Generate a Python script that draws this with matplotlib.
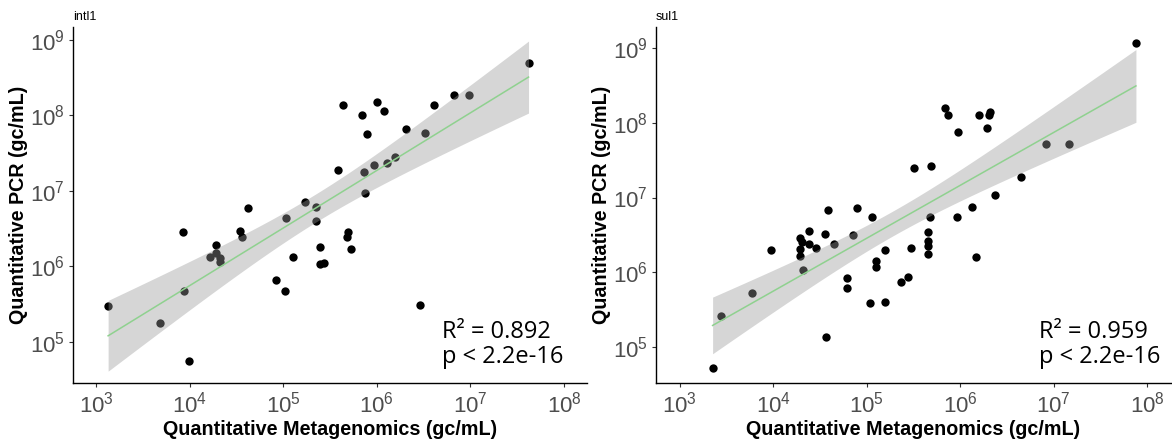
import numpy as np
import matplotlib
matplotlib.use("Agg")
import matplotlib.pyplot as plt
from matplotlib.ticker import LogLocator, NullLocator, LogFormatterSciNotation

plt.rcParams['font.family'] = ['Liberation Sans', 'DejaVu Sans']
plt.rcParams['mathtext.fontset'] = 'custom'
plt.rcParams['mathtext.rm'] = 'Liberation Sans'

# log10 values (metagenomics x, qPCR y)
intl1_x = [7.62, 5.64, 6.00, 5.84, 6.08, 5.90, 6.61, 6.82, 6.98, 6.31, 6.51,
           6.19, 6.11, 5.97, 5.86, 5.58, 5.87, 5.23, 5.35, 5.03, 5.35, 4.62,
           3.93, 4.54, 4.56, 4.28, 4.22, 4.28, 4.33, 4.32, 5.10, 4.92, 5.02,
           3.94, 3.13, 3.68, 3.99, 5.69, 5.68, 5.39, 5.72, 5.39, 5.44, 6.46]
intl1_y = [8.70, 8.14, 8.18, 8.00, 8.06, 7.75, 8.14, 8.27, 8.27, 7.82, 7.77,
           7.45, 7.37, 7.34, 7.25, 7.28, 6.97, 6.85, 6.79, 6.64, 6.60, 6.77,
           6.46, 6.47, 6.39, 6.28, 6.13, 6.18, 6.11, 6.06, 6.13, 5.82, 5.68,
           5.68, 5.48, 5.25, 4.75, 6.46, 6.39, 6.26, 6.23, 6.03, 6.05, 5.49]

sul1_x = [7.88, 5.84, 5.87, 6.20, 6.32, 6.31, 6.29, 5.98, 6.92, 7.16, 5.51,
          5.69, 6.65, 6.37, 6.13, 5.97, 5.68, 5.06, 4.59, 4.89, 4.38, 4.28,
          4.55, 4.85, 4.31, 4.38, 4.65, 3.97, 4.29, 4.46, 5.20, 4.29, 5.10,
          5.10, 4.32, 4.79, 4.79, 3.77, 5.03, 5.19, 3.44, 4.56, 3.35, 5.66,
          5.65, 5.65, 5.65, 5.47, 6.17, 5.44, 5.37]
sul1_y = [9.06, 8.20, 8.11, 8.10, 8.14, 8.10, 7.93, 7.87, 7.71, 7.71, 7.39,
          7.42, 7.27, 7.03, 6.87, 6.74, 6.74, 6.74, 6.84, 6.86, 6.55, 6.46,
          6.51, 6.50, 6.40, 6.38, 6.38, 6.30, 6.31, 6.32, 6.30, 6.22, 6.15,
          6.07, 6.03, 5.92, 5.79, 5.72, 5.59, 5.60, 5.41, 5.13, 4.72, 6.54,
          6.42, 6.35, 6.24, 6.32, 6.20, 5.94, 5.87]

panels = [
    dict(title='intl1', x=intl1_x, y=intl1_y, r2='0.892',
         xlim=(2.755, 8.245), ylim=(4.457, 9.17), txt_x=0.718),
    dict(title='sul1', x=sul1_x, y=sul1_y, r2='0.959',
         xlim=(2.744, 8.256), ylim=(4.52, 9.28), txt_x=0.744),
]
positions = [[0.0623, 0.1295, 0.4386, 0.8091], [0.5597, 0.1295, 0.4395, 0.8091]]
T_CRIT = 2.02


def fit_band(x, y):
    x = np.asarray(x); y = np.asarray(y)
    n = len(x)
    b, a = np.polyfit(x, y, 1)
    resid = y - (a + b * x)
    s = np.sqrt(np.sum(resid ** 2) / (n - 2))
    grid = np.linspace(x.min(), x.max(), 80)
    se = s * np.sqrt(1 / n + (grid - x.mean()) ** 2 / np.sum((x - x.mean()) ** 2))
    fit = a + b * grid
    return grid, fit, fit - T_CRIT * se, fit + T_CRIT * se


fig = plt.figure(figsize=(11.72, 4.4), dpi=100)

for p, pos in zip(panels, positions):
    ax = fig.add_axes(pos)
    xs = 10 ** np.asarray(p['x'])
    ys = 10 ** np.asarray(p['y'])
    ax.scatter(xs, ys, s=36, color='black', linewidths=0, zorder=2)

    grid, fit, lo, hi = fit_band(p['x'], p['y'])
    ax.fill_between(10 ** grid, 10 ** lo, 10 ** hi, color='#999999', alpha=0.4,
                    linewidth=0, zorder=3)
    ax.plot(10 ** grid, 10 ** fit, color='#8fd18f', linewidth=1.1, zorder=4)

    ax.set_xscale('log')
    ax.set_yscale('log')
    ax.set_xlim(10 ** p['xlim'][0], 10 ** p['xlim'][1])
    ax.set_ylim(10 ** p['ylim'][0], 10 ** p['ylim'][1])
    for axis in (ax.xaxis, ax.yaxis):
        axis.set_major_locator(LogLocator(base=10, numticks=12))
        axis.set_minor_locator(NullLocator())
        axis.set_major_formatter(LogFormatterSciNotation())

    for side in ('top', 'right'):
        ax.spines[side].set_visible(False)
    for side in ('left', 'bottom'):
        ax.spines[side].set_color('black')
        ax.spines[side].set_linewidth(1.0)
    ax.tick_params(axis='both', length=3, width=0.8, color='#333333',
                   labelsize=16, labelcolor='#4d4d4d', pad=3)

    ax.set_xlabel('Quantitative Metagenomics (gc/mL)', fontsize=14.2,
                  fontweight='bold', labelpad=2)
    ax.set_ylabel('Quantitative PCR (gc/mL)', fontsize=14.2,
                  fontweight='bold', labelpad=1)
    ax.set_title(p['title'], fontsize=9, loc='left', pad=5)

    txt_font = ['Open Sans', 'DejaVu Sans']
    ax.text(p['txt_x'], 0.126, 'R\u00b2 = ' + p['r2'], transform=ax.transAxes,
            fontsize=17, family=txt_font, ha='left', va='baseline')
    ax.text(p['txt_x'], 0.056, 'p < 2.2e-16', transform=ax.transAxes,
            fontsize=17, family=txt_font, ha='left', va='baseline')

fig.savefig('out.png', dpi=100)
